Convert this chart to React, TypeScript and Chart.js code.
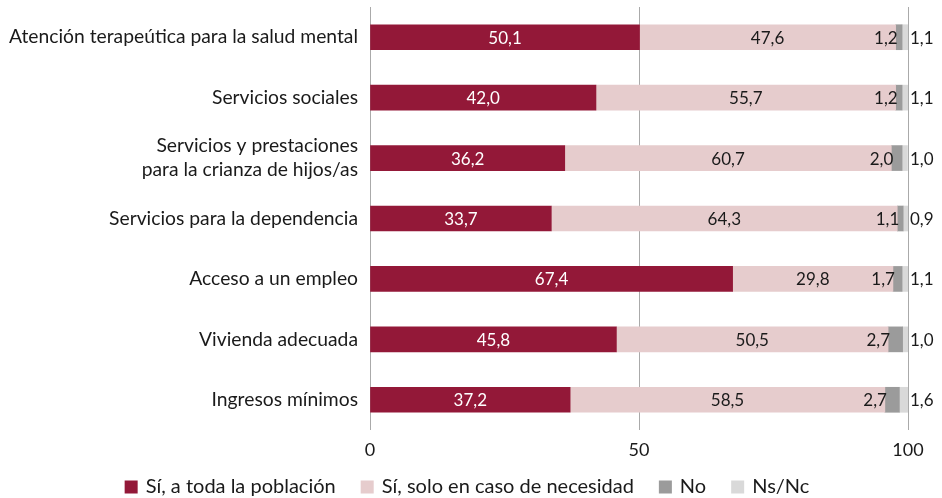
import React, { useEffect, useRef } from "react";
import { Chart, registerables } from "chart.js";

Chart.register(...registerables);

const categories: (string | string[])[] = [
  "Atención terapeútica para la salud mental",
  "Servicios sociales",
  ["Servicios y prestaciones", "para la crianza de hijos/as"],
  "Servicios para la dependencia",
  "Acceso a un empleo",
  "Vivienda adecuada",
  "Ingresos mínimos",
];
const seriesNames = ["Sí, a toda la población", "Sí, solo en caso de necesidad", "No", "Ns/Nc"];
const siToda = [50.1, 42.0, 36.2, 33.7, 67.4, 45.8, 37.2];
const siNecesidad = [47.6, 55.7, 60.7, 64.3, 29.8, 50.5, 58.5];
const no = [1.2, 1.2, 2.0, 1.1, 1.7, 2.7, 2.7];
const nsnc = [1.1, 1.1, 1.0, 0.9, 1.1, 1.0, 1.6];
const xTicks = [0, 50, 100];

const colors = ["#931838", "#E6CCCD", "#9B9B9B", "#D9D9D9"];
const FONT = "Lato, 'Open Sans', sans-serif";
const TEXT = "#1a1a1a";
const fmt = (v: number) => v.toFixed(1).replace(".", ",");

const labelPlugin = {
  id: "valueLabels",
  afterDatasetsDraw(chart: any) {
    const ctx = chart.ctx;
    ctx.save();
    ctx.font = `17px ${FONT}`;
    ctx.textBaseline = "middle";
    chart.data.datasets.forEach((ds: any, di: number) => {
      const meta = chart.getDatasetMeta(di);
      meta.data.forEach((bar: any, i: number) => {
        const v = ds.data[i];
        const left = Math.min(bar.x, bar.base);
        const right = Math.max(bar.x, bar.base);
        const y = bar.y + 1;
        if (di === 0) {
          ctx.fillStyle = "#ffffff";
          ctx.textAlign = "center";
          ctx.fillText(fmt(v), (left + right) / 2, y);
        } else if (di === 1) {
          ctx.fillStyle = TEXT;
          ctx.textAlign = "center";
          ctx.fillText(fmt(v), (left + right) / 2, y);
        } else if (di === 2) {
          ctx.fillStyle = TEXT;
          ctx.textAlign = "right";
          ctx.fillText(fmt(v), left + 2, y);
        } else {
          ctx.fillStyle = TEXT;
          ctx.textAlign = "left";
          ctx.fillText(fmt(v), chart.scales.x.getPixelForValue(100) + 2, y);
        }
      });
    });
    ctx.restore();
  },
};

const legendPlugin = {
  id: "customLegend",
  afterDraw(chart: any) {
    const ctx = chart.ctx;
    ctx.save();
    ctx.font = `20px ${FONT}`;
    ctx.textBaseline = "middle";
    ctx.textAlign = "left";
    const box = 13;
    const gapText = 8;
    const gapItem = 25;
    const items = chart.data.datasets.map((ds: any) => ({
      text: ds.label,
      color: ds.backgroundColor,
      w: box + gapText + ctx.measureText(ds.label).width,
    }));
    const total = items.reduce((s: number, it: any) => s + it.w, 0) + gapItem * (items.length - 1);
    let x = chart.width / 2 - 4 - total / 2;
    const y = chart.height - 11;
    items.forEach((it: any) => {
      ctx.fillStyle = it.color;
      ctx.fillRect(x, y - box / 2, box, box);
      ctx.fillStyle = TEXT;
      ctx.fillText(it.text, x + box + gapText, y);
      x += it.w + gapItem;
    });
    ctx.restore();
  },
};

export default function App() {
  const ref = useRef<HTMLCanvasElement>(null);
  useEffect(() => {
    if (!ref.current) return;
    const series = [siToda, siNecesidad, no, nsnc];
    const chart = new Chart(ref.current, {
      type: "bar",
      data: {
        labels: categories,
        datasets: series.map((d, i) => ({
          label: seriesNames[i],
          data: d,
          backgroundColor: colors[i],
          borderWidth: 0,
          barThickness: 25,
        })),
      },
      options: {
        indexAxis: "y",
        animation: false,
        responsive: true,
        maintainAspectRatio: false,
        layout: { padding: { top: 7, right: 34, left: 0, bottom: 31 } },
        scales: {
          x: {
            stacked: true,
            min: 0,
            max: 100,
            afterBuildTicks: (scale: any) => {
              scale.ticks = xTicks.map((v) => ({ value: v }));
            },
            afterFit: (scale: any) => {
              scale.height = 37;
              scale.paddingLeft = 0;
              scale.paddingRight = 0;
            },
            grid: { color: "#AAAAAA", lineWidth: 1, drawTicks: false },
            border: { display: false },
            ticks: {
              font: { family: FONT, size: 18 },
              color: TEXT,
              padding: 9,
            },
          },
          y: {
            stacked: true,
            grid: { display: false, drawTicks: false },
            border: { display: false },
            ticks: {
              font: { family: FONT, size: 19.3, lineHeight: 1.25 },
              color: TEXT,
              padding: 12,
            },
            afterFit: (scale: any) => {
              scale.width = 370;
              scale.paddingTop = 0;
              scale.paddingBottom = 0;
            },
          },
        },
        plugins: {
          legend: { display: false },
          tooltip: { enabled: false },
        },
      },
      plugins: [labelPlugin, legendPlugin],
    });
    return () => chart.destroy();
  }, []);
  return (
    <div style={{ position: "fixed", left: 0, top: 0, width: 942, height: 498, background: "#fff" }}>
      <canvas ref={ref} />
    </div>
  );
}
